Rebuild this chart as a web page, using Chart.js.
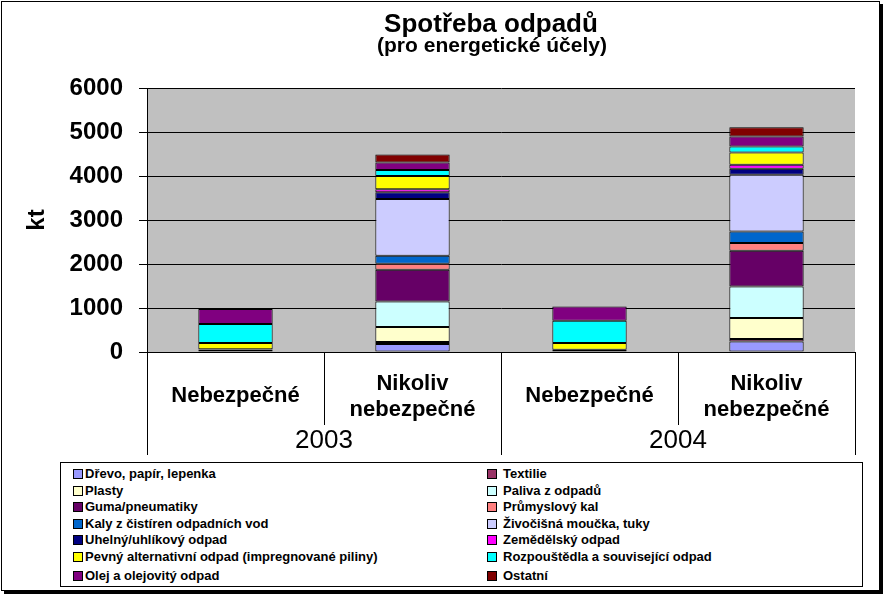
<!DOCTYPE html>
<html>
<head>
<meta charset="utf-8">
<script src="https://cdn.jsdelivr.net/npm/chart.js@4"></script>
<style>
  body { margin:0; background:#fff; }
  #wrap { position:relative; width:884px; height:596px; }
  #frame { position:absolute; left:1px; top:1px; width:877px; height:588px; border:1px solid #000; box-shadow:3px 3px 0 #000; }
  #c { position:absolute; left:0; top:0; }
  #legend { position:absolute; left:60px; top:462px; width:801px; height:123px; border:1px solid #000; background:#fff;
    font:bold 13px "Liberation Sans", Arial, sans-serif; color:#000; }
  .lg-item { position:absolute; white-space:nowrap; line-height:16px; }
  .lg-sw { display:inline-block; width:8px; height:8px; border:1px solid #000; vertical-align:-1px; margin-right:2px; }
</style>
</head>
<body>
<div id="wrap">
  <div id="frame"></div>
  <canvas id="c" width="884" height="596"></canvas>
  <div id="legend"></div>
</div>
<script>
// ── data ──
var categories = ['Nebezpečné', ['Nikoliv', 'nebezpečné'], 'Nebezpečné', ['Nikoliv', 'nebezpečné']];
var years = ['2003', '2004'];
var yTicks = [0, 1000, 2000, 3000, 4000, 5000, 6000];

var drevo        = [null, 182, null, 240];
var textilie     = [null, 45, 20, 53];
var plasty       = [null, 340, null, 477];
var paliva       = [null, 580, null, 720];
var guma         = [null, 720, null, 810];
var prumKal      = [50, 136, null, 175];
var kaly         = [null, 182, null, 265];
var zivocisna    = [null, 1295, null, 1288];
var uhelny       = [10, 150, 30, 136];
var zemedelsky   = [null, 68, null, 90];
var pevny        = [145, 300, 152, 280];
var rozpoustedla = [430, 136, 507, 136];
var olej         = [340, 175, 325, 227];
var ostatni      = [null, 180, null, 212];

var series = [
  ['Dřevo, papír, lepenka', drevo, '#9999ff'],
  ['Textilie', textilie, '#993366'],
  ['Plasty', plasty, '#ffffcc'],
  ['Paliva z odpadů', paliva, '#ccffff'],
  ['Guma/pneumatiky', guma, '#660066'],
  ['Průmyslový  kal', prumKal, '#ff8080'],
  ['Kaly z čistíren odpadních vod', kaly, '#0066cc'],
  ['Živočišná moučka, tuky', zivocisna, '#ccccff'],
  ['Uhelný/uhlíkový odpad', uhelny, '#000080'],
  ['Zemědělský odpad', zemedelsky, '#ff00ff'],
  ['Pevný alternativní odpad (impregnované piliny)', pevny, '#ffff00'],
  ['Rozpouštědla a související odpad', rozpoustedla, '#00ffff'],
  ['Olej a olejovitý odpad', olej, '#800080'],
  ['Ostatní', ostatni, '#800000']
];

var FONT = '"Liberation Sans", Arial, sans-serif';

// ── plugin: plot background, category axis, title ──
var decor = {
  id: 'decor',
  beforeDraw: function(chart) {
    var a = chart.chartArea, ctx = chart.ctx;
    ctx.save();
    ctx.fillStyle = '#c0c0c0';
    ctx.fillRect(a.left, a.top, a.right - a.left, a.bottom - a.top);
    ctx.restore();
  },
  afterDraw: function(chart) {
    var a = chart.chartArea, ctx = chart.ctx, x = chart.scales.x;
    var n = categories.length;
    var bounds = [a.left];
    for (var i = 1; i < n; i++) bounds.push((x.getPixelForValue(i - 1) + x.getPixelForValue(i)) / 2);
    bounds.push(a.right);
    ctx.save();
    ctx.strokeStyle = '#000'; ctx.lineWidth = 1;
    bounds.forEach(function(b, i) {
      var bx = Math.round(b) + 0.5;
      ctx.beginPath(); ctx.moveTo(bx, a.bottom); ctx.lineTo(bx, i % 2 === 0 ? 455 : 425); ctx.stroke();
    });
    ctx.fillStyle = '#000'; ctx.textAlign = 'center'; ctx.textBaseline = 'middle';
    ctx.font = 'bold 22px ' + FONT;
    categories.forEach(function(c, i) {
      var cx = x.getPixelForValue(i);
      if (Array.isArray(c)) { ctx.fillText(c[0], cx, 384); ctx.fillText(c[1], cx, 410); }
      else ctx.fillText(c, cx, 396);
    });
    ctx.font = '26px ' + FONT;
    years.forEach(function(y, i) {
      ctx.fillText(y, (bounds[i * 2] + bounds[i * 2 + 2]) / 2, 441);
    });
    ctx.font = 'bold 26px ' + FONT;
    ctx.fillText('Spotřeba odpadů', 491, 25);
    ctx.font = 'bold 21px ' + FONT;
    ctx.fillText('(pro energetické účely)', 492, 46);
    ctx.restore();
  }
};

new Chart(document.getElementById('c'), {
  type: 'bar',
  data: {
    labels: categories,
    datasets: series.map(function(s) {
      return { label: s[0], data: s[1], backgroundColor: s[2], borderColor: '#000', borderWidth: 1, borderSkipped: false,
        categoryPercentage: 1, barPercentage: 0.42 };
    })
  },
  options: {
    responsive: false, animation: false,
    layout: { padding: { left: 20, right: 29, top: 88, bottom: 141 } },
    plugins: { legend: { display: false }, tooltip: { enabled: false } },
    scales: {
      x: { stacked: true, grid: { display: false }, ticks: { display: false },
        border: { display: true, color: '#000', width: 1 },
        afterFit: function(s) { s.height = 103; } },
      y: { stacked: true, min: 0, max: 6000,
        afterBuildTicks: function(s) { s.ticks = yTicks.map(function(v) { return { value: v }; }); },
        ticks: { color: '#000', font: { family: FONT, size: 24, weight: 'bold' }, padding: 16,
          callback: function(v) { return String(v); } },
        grid: { color: '#000', tickColor: '#000', tickLength: 8 },
        border: { display: true, color: '#000', width: 1 },
        title: { display: true, text: 'kt', color: '#000', font: { family: FONT, size: 24, weight: 'bold' }, padding: 3 },
        afterFit: function(s) { s.width = 127; } }
    }
  },
  plugins: [decor]
});

// ── legend (two columns, row by row) ──
var lg = document.getElementById('legend');
series.forEach(function(s, i) {
  var col = i % 2, row = Math.floor(i / 2);
  var d = document.createElement('div');
  d.className = 'lg-item';
  d.style.left = (col ? 426 : 12) + 'px';
  d.style.top = (3 + row * 16.6 + (row === 6 ? 2 : 0)) + 'px';
  d.innerHTML = '<span class="lg-sw" style="background:' + s[2] + (col ? ';margin-right:6px' : '') + '"></span>' + s[0];
  lg.appendChild(d);
});
</script>
</body>
</html>
